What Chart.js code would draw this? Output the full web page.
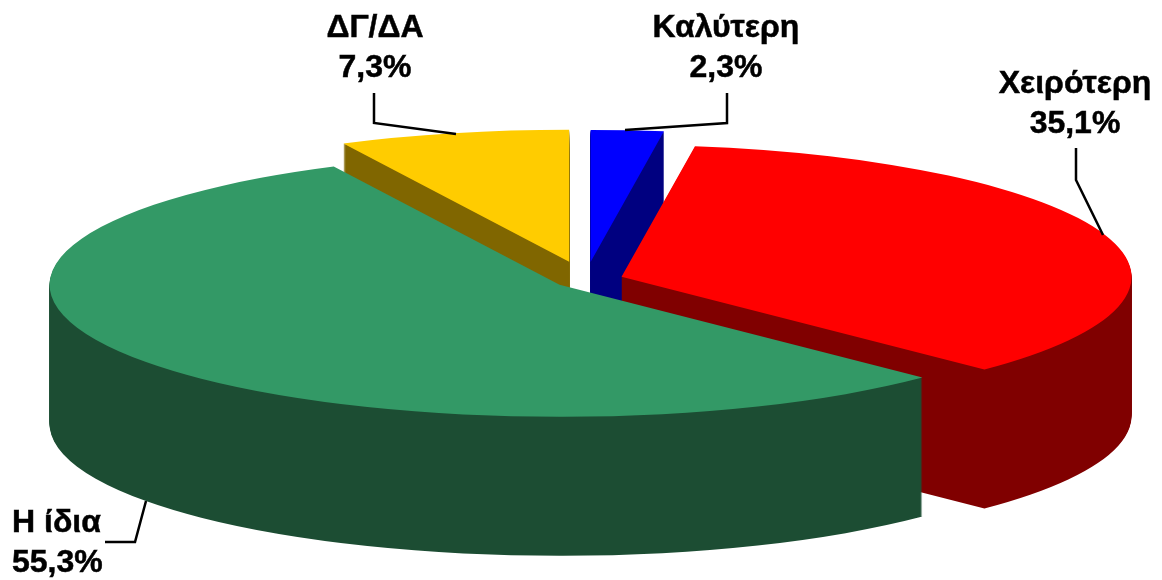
<!DOCTYPE html>
<html lang="el">

<head>
    <meta charset="UTF-8">
    <title>Η ίδια / Χειρότερη / Καλύτερη</title>
    <script src="https://cdn.jsdelivr.net/npm/chart.js"></script>
    <style>
        html, body { margin: 0; padding: 0; background: #fff; }
        canvas { display: block; }
    </style>
</head>

<body>
    <canvas id="pie3d" width="1162" height="580"></canvas>

    <script>
        // Values in drawing order, clockwise from 12 o'clock
        const categories = ['Καλύτερη', 'Χειρότερη', 'Η ίδια', 'ΔΓ/ΔΑ'];
        const shares = [2.3, 35.1, 55.3, 7.3];
        const shareLabels = ['2,3%', '35,1%', '55,3%', '7,3%'];

        const topColors = ['#0000FF', '#FF0000', '#339966', '#FFCC00'];
        const sideColors = ['#000080', '#800000', '#1C4D33', '#806600'];

        // How far each slice is pulled out of the pie, in unsquashed pixels
        const explode = [70, 38, 32, 72];
        // Back slices first so the front ones cover them
        const paintOrder = [3, 0, 1, 2];

        const pieCenter = { x: 585.5, y: 280 };
        const tilt = 132 / 510;
        const depth = 139;

        // Callouts: text anchor plus the leader line that goes with it
        const callouts = [
            { align: 'center', x: 726, y: 37, line: [[727, 93], [727, 123], [625, 130]] },
            { align: 'center', x: 1075, y: 93, line: [[1076, 148], [1076, 180], [1103, 235]] },
            { align: 'left', x: 12, y: 532, line: [[146, 501], [135, 542], [105, 542]] },
            { align: 'center', x: 375, y: 37, line: [[374, 93], [374, 123], [456, 134]] }
        ];

        function paintSlice(ctx, arc, pull, drop) {
            const mid = (arc.startAngle + arc.endAngle) / 2;
            ctx.save();
            ctx.translate(pieCenter.x, pieCenter.y + drop);
            ctx.scale(1, tilt);
            ctx.translate(Math.cos(mid) * pull - arc.x, Math.sin(mid) * pull - arc.y);
            arc.draw(ctx);
            ctx.restore();
        }

        // Stacking the wall straight on the chart leaves faint stripes from colour
        // rounding, so stack it in black on a spare canvas and tint it afterwards
        const wallCanvas = document.createElement('canvas');
        wallCanvas.width = 1162;
        wallCanvas.height = 580;

        function paintWall(ctx, arc, i) {
            const wall = wallCanvas.getContext('2d');
            const opts = arc.options;
            wall.clearRect(0, 0, wallCanvas.width, wallCanvas.height);
            arc.options = { ...opts, backgroundColor: '#000' };
            for (let d = depth; d > 0; d--) {
                paintSlice(wall, arc, explode[i], d);
            }
            arc.options = opts;
            wall.globalCompositeOperation = 'source-in';
            wall.fillStyle = sideColors[i];
            wall.fillRect(0, 0, wallCanvas.width, wallCanvas.height);
            wall.globalCompositeOperation = 'source-over';
            ctx.drawImage(wallCanvas, 0, 0);
        }

        // Chart.js has no 3D pie, so squash the arcs and stack them downwards
        const tiltedPie = {
            id: 'tiltedPie',
            beforeDatasetsDraw(chart) {
                const ctx = chart.ctx;
                const arcs = chart.getDatasetMeta(0).data;
                paintOrder.forEach(i => {
                    paintWall(ctx, arcs[i], i);
                    paintSlice(ctx, arcs[i], explode[i], 0);
                });
                return false;
            },
            // afterDatasetsDraw does not fire once the default draw is cancelled
            afterDraw(chart) {
                const ctx = chart.ctx;
                ctx.save();
                ctx.strokeStyle = '#000';
                ctx.fillStyle = '#000';
                ctx.font = 'bold 32px "Liberation Sans", Arial, sans-serif';
                ctx.textBaseline = 'alphabetic';
                callouts.forEach((c, i) => {
                    ctx.lineWidth = 2.5;
                    ctx.beginPath();
                    c.line.forEach(([x, y], k) => k ? ctx.lineTo(x, y) : ctx.moveTo(x, y));
                    ctx.stroke();
                    ctx.textAlign = c.align;
                    ctx.lineWidth = 0.5;
                    [categories[i], shareLabels[i]].forEach((text, row) => {
                        ctx.fillText(text, c.x, c.y + row * 40);
                        ctx.strokeText(text, c.x, c.y + row * 40);
                    });
                });
                ctx.restore();
            }
        };

        new Chart(document.getElementById('pie3d').getContext('2d'), {
            type: 'pie',
            data: {
                labels: categories,
                datasets: [{
                    data: shares,
                    backgroundColor: topColors,
                    borderWidth: 0
                }]
            },
            options: {
                responsive: false,
                animation: false,
                radius: 510,
                events: [],
                plugins: {
                    legend: { display: false },
                    tooltip: { enabled: false }
                }
            },
            plugins: [tiltedPie]
        });
    </script>
</body>

</html>
